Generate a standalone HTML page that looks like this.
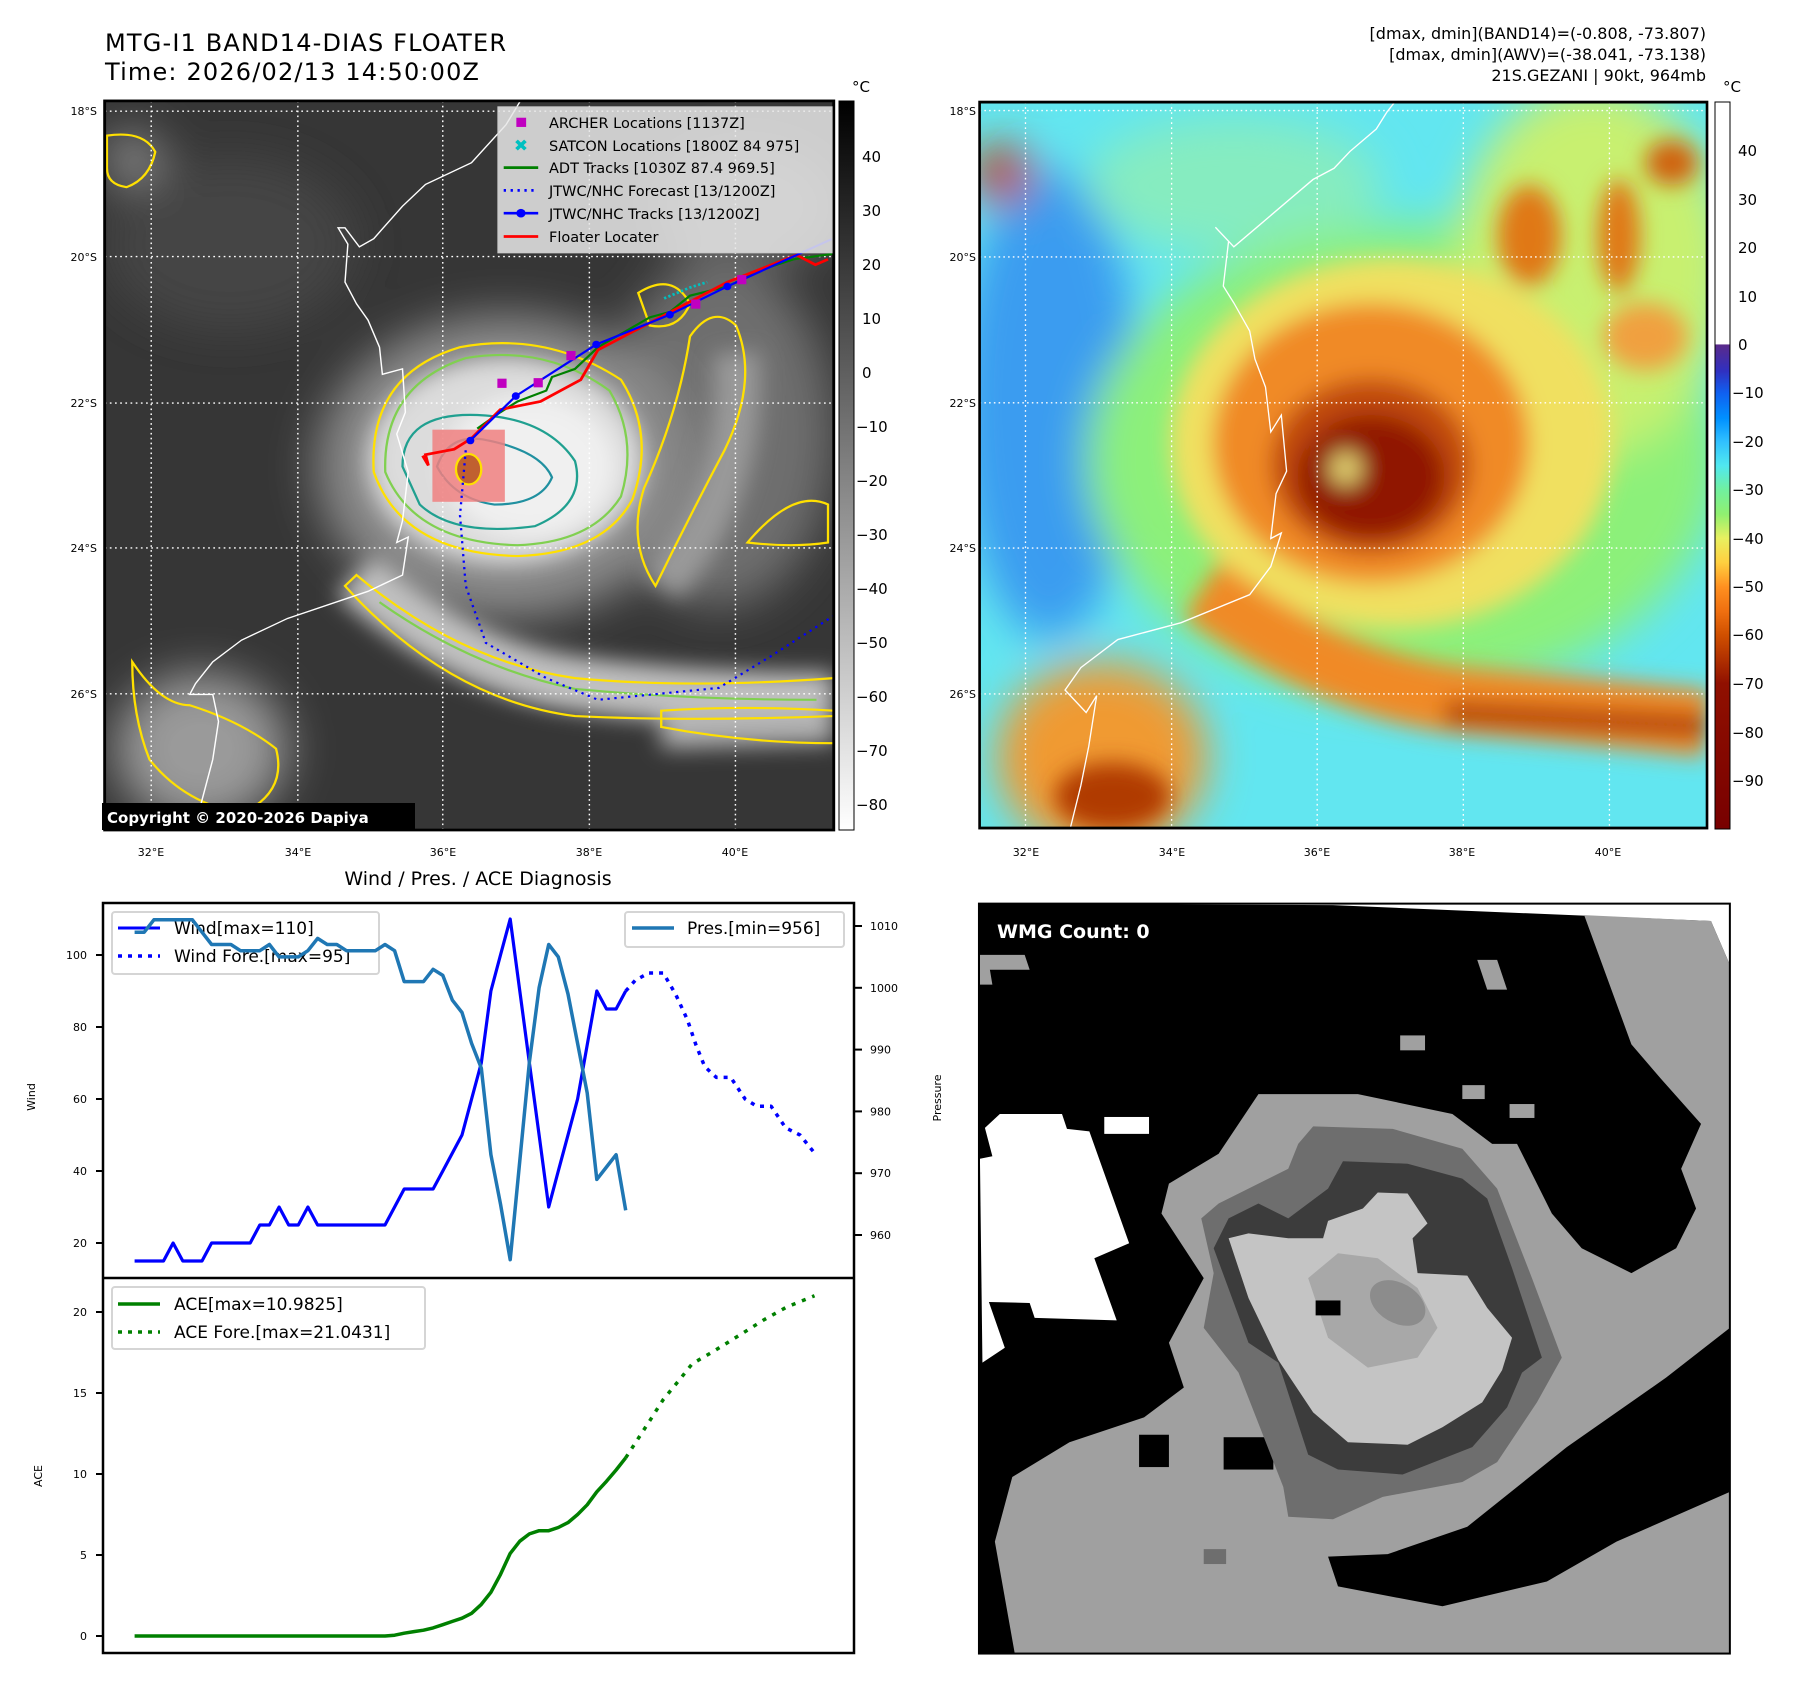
<!DOCTYPE html>
<html><head><meta charset="utf-8"><style>
html,body{margin:0;padding:0;background:#fff;}
svg{display:block;font-family:"DejaVu Sans","Liberation Sans",sans-serif;}
</style></head><body>
<svg id="root" width="1797" height="1690" viewBox="0 0 1797 1690" xmlns="http://www.w3.org/2000/svg">
<defs>
<filter id="b8" x="-30%" y="-30%" width="160%" height="160%"><feGaussianBlur stdDeviation="8"/></filter>
<filter id="b20" x="-30%" y="-30%" width="160%" height="160%"><feGaussianBlur stdDeviation="20"/></filter>
<filter id="b40" x="-40%" y="-40%" width="180%" height="180%"><feGaussianBlur stdDeviation="40"/></filter>
<clipPath id="clipL"><rect x="182" y="186" width="1268" height="1344"/></clipPath>
<clipPath id="clipR"><rect x="18" y="182" width="1379" height="1294"/></clipPath>
<clipPath id="clipW"><rect x="18" y="27" width="1510" height="1508"/></clipPath>
<linearGradient id="cbGray" x1="0" y1="0" x2="0" y2="1"><stop offset="0" stop-color="#000"/><stop offset="1" stop-color="#fff"/></linearGradient>
<linearGradient id="cbJet" x1="0" y1="0" x2="0" y2="1">
<stop offset="0" stop-color="#fff"/><stop offset="0.333" stop-color="#fff"/><stop offset="0.334" stop-color="#5a2a8a"/>
<stop offset="0.37" stop-color="#3030c0"/><stop offset="0.40" stop-color="#1060f0"/><stop offset="0.435" stop-color="#0090ff"/>
<stop offset="0.467" stop-color="#30c0ff"/><stop offset="0.5" stop-color="#50e8f0"/><stop offset="0.533" stop-color="#70f0a0"/>
<stop offset="0.567" stop-color="#90f070"/><stop offset="0.6" stop-color="#e8f060"/><stop offset="0.633" stop-color="#ffd040"/>
<stop offset="0.667" stop-color="#ff9020"/><stop offset="0.7" stop-color="#f07010"/><stop offset="0.733" stop-color="#d05000"/>
<stop offset="0.767" stop-color="#b03000"/><stop offset="0.8" stop-color="#901000"/><stop offset="1" stop-color="#780000"/>
</linearGradient>
</defs>

<!-- Titles -->
<text x="105" y="51" font-size="24" textLength="401">MTG-I1 BAND14-DIAS FLOATER</text>
<text x="105" y="80" font-size="24" textLength="374">Time: 2026/02/13 14:50:00Z</text>
<g font-size="16" text-anchor="end">
<text x="1706" y="39">[dmax, dmin](BAND14)=(-0.808, -73.807)</text>
<text x="1706" y="60">[dmax, dmin](AWV)=(-38.041, -73.138)</text>
<text x="1706" y="81">21S.GEZANI | 90kt, 964mb</text>
</g>

<!-- LEFT MAP (zoom1 coordinate space) -->
<g transform="scale(0.575,0.5425)">
<g clip-path="url(#clipL)">
<rect x="182" y="186" width="1268" height="1344" fill="#363636"/>
<g filter="url(#b40)">
<ellipse cx="400" cy="450" rx="220" ry="160" fill="#444"/>
<ellipse cx="1250" cy="800" rx="200" ry="320" fill="#6e6e6e"/>
<ellipse cx="1300" cy="380" rx="160" ry="120" fill="#5e5e5e"/>
<ellipse cx="880" cy="860" rx="330" ry="280" fill="#8a8a8a"/>
<ellipse cx="350" cy="1380" rx="150" ry="140" fill="#9a9a9a"/>
<ellipse cx="230" cy="290" rx="50" ry="50" fill="#888"/>
</g>
<g filter="url(#b20)">
<path d="M620,1060 Q800,1230 1000,1260 T1450,1290" stroke="#c0c0c0" stroke-width="100" fill="none"/>
<path d="M1150,1350 L1450,1340" stroke="#b0b0b0" stroke-width="60" fill="none"/>
<path d="M1150,1080 Q1300,900 1280,650" stroke="#9a9a9a" stroke-width="80" fill="none"/>
<ellipse cx="880" cy="850" rx="240" ry="190" fill="#dcdcdc"/>
<ellipse cx="920" cy="860" rx="150" ry="130" fill="#f0f0f0"/>
</g>
<!-- contours -->
<g fill="none" stroke-width="4">
<path d="M650,870 Q640,690 800,640 Q950,610 1080,700 Q1140,800 1100,920 Q1050,1020 900,1025 Q700,1020 650,870 Z" stroke="#ffe000"/>
<path d="M670,870 Q665,710 810,660 Q950,635 1060,720 Q1110,810 1080,915 Q1030,1000 900,1005 Q720,1000 670,870 Z" stroke="#80d050"/>
<path d="M700,860 Q700,760 830,765 Q950,770 1000,850 Q1020,930 930,970 Q790,990 730,930 Z" stroke="#20a090"/>
<path d="M760,860 Q780,800 840,810 Q940,830 960,880 Q940,930 860,930 Q790,920 760,860 Z" stroke="#2090a0"/>
<path d="M620,1060 Q800,1220 1000,1250 Q1200,1270 1450,1250 L1450,1320 Q1200,1330 1000,1320 Q780,1290 600,1080 Z" stroke="#ffe000"/>
<path d="M660,1110 Q820,1230 1000,1270 Q1200,1290 1420,1290" stroke="#80d050"/>
<path d="M1150,1310 Q1300,1300 1450,1310 L1450,1370 Q1300,1370 1150,1340 Z" stroke="#ffe000"/>
<path d="M1140,1080 Q1200,950 1260,830 Q1320,700 1280,600 Q1240,560 1200,620 Q1180,760 1120,900 Q1090,1000 1140,1080 Z" stroke="#ffe000"/>
<path d="M1300,1000 Q1380,900 1440,930 L1440,1000 Q1380,1010 1300,1000 Z" stroke="#ffe000"/>
<path d="M230,1220 Q280,1300 330,1300 Q420,1330 480,1380 Q500,1460 420,1500 Q320,1480 260,1400 Q230,1320 230,1220 Z" stroke="#ffe000"/>
<path d="M186,250 Q250,240 270,280 Q260,330 220,345 Q186,340 186,310 Z" stroke="#ffe000"/>
<path d="M1110,540 Q1170,500 1200,560 Q1180,610 1130,600 Z" stroke="#ffe000"/>
</g>
<path d="M905,186 L880,230 L820,300 L740,340 L700,380 L650,440 L625,455 L600,420 L588,420 L605,450 L600,520 L620,560 L640,590 L660,640 L665,690 L700,680 L705,760 L690,800 L710,870 L700,960 L690,1000 L710,990 L700,1060 L640,1090 L500,1140 L420,1180 L370,1220 L340,1260 L330,1280 L370,1280 L380,1330 L370,1400 L350,1480 L345,1530" fill="none" stroke="#fff" stroke-width="2.5"/>
<g stroke="#fff" stroke-width="2.5" stroke-dasharray="3 6">
<line x1="263" y1="186" x2="263" y2="1530"/><line x1="518" y1="186" x2="518" y2="1530"/><line x1="770" y1="186" x2="770" y2="1530"/><line x1="1025" y1="186" x2="1025" y2="1530"/><line x1="1279" y1="186" x2="1279" y2="1530"/>
<line x1="182" y1="205" x2="1450" y2="205"/><line x1="182" y1="473" x2="1450" y2="473"/><line x1="182" y1="743" x2="1450" y2="743"/><line x1="182" y1="1010" x2="1450" y2="1010"/><line x1="182" y1="1279" x2="1450" y2="1279"/>
</g>
<rect x="752" y="792" width="126" height="133" fill="#f08080" fill-opacity="0.85"/>
<ellipse cx="815" cy="865" rx="22" ry="28" fill="#c06030" stroke="#ffe000" stroke-width="4"/>
<polyline points="810,830 800,950 810,1080 845,1185 950,1250 1040,1290 1250,1268 1340,1210 1450,1135" fill="none" stroke="#0000ff" stroke-width="4" stroke-dasharray="4 8"/>
<polyline points="1448,468 1380,478 1330,495 1265,528 1200,545 1165,575 1130,585 1040,640 1000,680 960,695 950,720 900,740 870,760 830,790" fill="none" stroke="#008000" stroke-width="4"/>
<polyline points="1440,478 1418,488 1385,470 1265,520 1040,645 1010,700 940,740 870,755 820,808 790,828 740,838 745,858 735,840" fill="none" stroke="#ff0000" stroke-width="5"/>
<polyline points="1448,440 1265,528 1165,580 1037,635 897,730 818,812" fill="none" stroke="#0000ff" stroke-width="4"/>
<g fill="#0000ff"><ellipse cx="1265" cy="528" rx="7" ry="7"/><ellipse cx="1165" cy="580" rx="7" ry="7"/><ellipse cx="1037" cy="635" rx="7" ry="7"/><ellipse cx="897" cy="730" rx="7" ry="7"/><ellipse cx="818" cy="812" rx="7" ry="7"/></g>
<g fill="#c000c0"><rect x="865" y="698" width="16" height="17"/><rect x="928" y="697" width="16" height="17"/><rect x="985" y="647" width="16" height="17"/><rect x="1202" y="552" width="16" height="17"/><rect x="1282" y="507" width="16" height="17"/></g>
<polyline points="1155,550 1200,530 1230,520" fill="none" stroke="#00c0c0" stroke-width="5" stroke-dasharray="4 4"/>
</g>
<rect x="182" y="186" width="1268" height="1344" fill="none" stroke="#000" stroke-width="5"/>
<g>
<rect x="866" y="197" width="581" height="269" fill="#e8e8e8" fill-opacity="0.85" stroke="#ccc" stroke-width="2"/>
<rect x="898" y="217" width="17" height="17" fill="#c000c0"/>
<text x="906" y="278" font-size="30" fill="#00c0c0" text-anchor="middle">✖</text>
<line x1="876" y1="309" x2="936" y2="309" stroke="#008000" stroke-width="5"/>
<line x1="876" y1="351" x2="936" y2="351" stroke="#0000ff" stroke-width="5" stroke-dasharray="4 8"/>
<line x1="876" y1="393" x2="936" y2="393" stroke="#0000ff" stroke-width="5"/><ellipse cx="906" cy="393" rx="8" ry="8" fill="#0000ff"/>
<line x1="876" y1="436" x2="936" y2="436" stroke="#ff0000" stroke-width="5"/>
</g>
</g>
<g font-size="14.5">
<text x="549" y="128">ARCHER Locations [1137Z]</text>
<text x="549" y="151">SATCON Locations [1800Z 84 975]</text>
<text x="549" y="173">ADT Tracks [1030Z 87.4 969.5]</text>
<text x="549" y="196">JTWC/NHC Forecast [13/1200Z]</text>
<text x="549" y="219">JTWC/NHC Tracks [13/1200Z]</text>
<text x="549" y="242">Floater Locater</text>
</g>
<rect x="102" y="803" width="313" height="27" fill="#000"/>
<text x="107" y="823" font-size="15" font-weight="bold" fill="#fff">Copyright © 2020-2026 Dapiya</text>

<g font-size="11" text-anchor="end">
<text x="97" y="115">18°S</text><text x="97" y="261">20°S</text><text x="97" y="407">22°S</text><text x="97" y="552">24°S</text><text x="97" y="698">26°S</text>
</g>
<g font-size="11" text-anchor="middle">
<text x="151" y="856">32°E</text><text x="298" y="856">34°E</text><text x="443" y="856">36°E</text><text x="589" y="856">38°E</text><text x="735" y="856">40°E</text>
</g>
<rect x="839" y="101" width="15" height="729" fill="url(#cbGray)" stroke="#000" stroke-width="1"/>
<text x="852" y="92" font-size="15">°C</text>
<g font-size="15">
<text x="862" y="162">40</text><text x="862" y="216">30</text><text x="862" y="270">20</text><text x="862" y="324">10</text><text x="862" y="378">0</text>
<text x="856" y="432">−10</text><text x="856" y="486">−20</text><text x="856" y="540">−30</text><text x="856" y="594">−40</text><text x="856" y="648">−50</text><text x="856" y="702">−60</text><text x="856" y="756">−70</text><text x="856" y="810">−80</text>
</g>

<!-- RIGHT MAP (zoom6 space) -->
<g transform="translate(970.1,0) scale(0.5275,0.561)">
<g clip-path="url(#clipR)">
<rect x="18" y="182" width="1379" height="1294" fill="#62e6f0"/>
<g filter="url(#b40)">
<ellipse cx="150" cy="720" rx="170" ry="420" fill="#3a9cf0"/>
<ellipse cx="500" cy="330" rx="280" ry="120" fill="#86ecc0"/>
<ellipse cx="820" cy="820" rx="600" ry="420" fill="#8cf07a"/>
<ellipse cx="1180" cy="480" rx="260" ry="330" fill="#c8f070"/>
<ellipse cx="250" cy="1350" rx="200" ry="170" fill="#f09a30"/>
<ellipse cx="60" cy="310" rx="60" ry="50" fill="#c04010"/>
</g>
<g filter="url(#b20)">
<ellipse cx="800" cy="790" rx="420" ry="330" fill="#f0e060"/>
<path d="M440,1050 Q700,1230 950,1250 T1397,1290" stroke="#f08a28" stroke-width="120" fill="none"/>
<path d="M900,1270 L1397,1295" stroke="#b03a00" stroke-width="40" fill="none"/>
<ellipse cx="760" cy="790" rx="300" ry="250" fill="#f08a28"/>
<ellipse cx="760" cy="830" rx="190" ry="155" fill="#c04a08"/>
<ellipse cx="760" cy="850" rx="140" ry="110" fill="#901400"/>
<ellipse cx="712" cy="835" rx="32" ry="30" fill="#e0d070"/>
<ellipse cx="1330" cy="290" rx="50" ry="40" fill="#d06010"/>
<ellipse cx="1060" cy="420" rx="60" ry="90" fill="#e07818"/>
<ellipse cx="1230" cy="420" rx="40" ry="100" fill="#e07818"/>
<ellipse cx="1280" cy="600" rx="80" ry="60" fill="#f0a040"/>
<ellipse cx="270" cy="1420" rx="110" ry="60" fill="#b03a00"/>
</g>
<path d="M805,182 L790,200 L770,230 L720,270 L690,300 L650,320 L600,360 L550,400 L500,440 L465,405 L490,430 L480,510 L500,540 L530,590 L540,640 L560,690 L570,770 L590,740 L600,840 L580,880 L570,960 L590,950 L570,1010 L530,1060 L400,1110 L280,1140 L210,1190 L180,1230 L220,1270 L240,1240 L225,1330 L210,1400 L190,1476" fill="none" stroke="#fff" stroke-width="2.5"/>
<g stroke="#fff" stroke-width="2.5" stroke-dasharray="3 6">
<line x1="105" y1="182" x2="105" y2="1476"/><line x1="382" y1="182" x2="382" y2="1476"/><line x1="658" y1="182" x2="658" y2="1476"/><line x1="935" y1="182" x2="935" y2="1476"/><line x1="1212" y1="182" x2="1212" y2="1476"/>
<line x1="18" y1="197" x2="1397" y2="197"/><line x1="18" y1="458" x2="1397" y2="458"/><line x1="18" y1="718" x2="1397" y2="718"/><line x1="18" y1="977" x2="1397" y2="977"/><line x1="18" y1="1237" x2="1397" y2="1237"/>
</g>
</g>
<rect x="18" y="182" width="1379" height="1294" fill="none" stroke="#000" stroke-width="5"/>
</g>
<g font-size="11" text-anchor="end">
<text x="976" y="115">18°S</text><text x="976" y="261">20°S</text><text x="976" y="407">22°S</text><text x="976" y="552">24°S</text><text x="976" y="698">26°S</text>
</g>
<g font-size="11" text-anchor="middle">
<text x="1026" y="856">32°E</text><text x="1172" y="856">34°E</text><text x="1317" y="856">36°E</text><text x="1462" y="856">38°E</text><text x="1608" y="856">40°E</text>
</g>
<rect x="1715" y="102" width="15" height="727" fill="url(#cbJet)" stroke="#000" stroke-width="1"/>
<text x="1723" y="92" font-size="15">°C</text>
<g font-size="15">
<text x="1738" y="156">40</text><text x="1738" y="205">30</text><text x="1738" y="253">20</text><text x="1738" y="302">10</text><text x="1738" y="350">0</text>
<text x="1732" y="398">−10</text><text x="1732" y="447">−20</text><text x="1732" y="495">−30</text><text x="1732" y="544">−40</text><text x="1732" y="592">−50</text><text x="1732" y="640">−60</text><text x="1732" y="689">−70</text><text x="1732" y="738">−80</text><text x="1732" y="786">−90</text>
</g>

<!-- WMG panel (zoom5 space) -->
<g transform="translate(970,890.2) scale(0.4973)">
<g clip-path="url(#clipW)">
<rect x="18" y="27" width="1510" height="1508" fill="#fff"/>
<polygon points="18,27 730,30 1490,62 1528,150 1528,1535 18,1535" fill="#000"/>
<polygon points="1235,50 1490,62 1528,150 1528,880 1400,980 1200,1120 1000,1280 840,1335 720,1340 740,1400 950,1440 1160,1390 1300,1310 1528,1210 1528,1535 90,1535 50,1310 85,1180 200,1110 350,1060 430,1000 400,910 470,780 385,650 400,590 500,530 580,410 780,410 970,450 1050,510 1100,510 1170,650 1230,720 1330,770 1420,720 1460,640 1430,560 1470,470 1390,380 1330,310" fill="#a0a0a0"/>
<g fill="#000"><rect x="340" y="1095" width="60" height="65"/><rect x="510" y="1100" width="100" height="65"/></g>
<g fill="#a0a0a0"><polygon points="1020,140 1060,140 1080,200 1040,200"/><rect x="865" y="292" width="50" height="30"/><rect x="990" y="392" width="45" height="28"/><rect x="1085" y="430" width="50" height="28"/><polygon points="20,130 110,130 120,160 40,160 45,190 20,190"/></g>
<rect x="470" y="1325" width="45" height="30" fill="#6e6e6e"/>
<polygon points="30,478 60,450 185,450 195,480 240,485 320,710 250,740 295,865 130,860 120,830 38,828 70,920 25,950 20,540 45,535" fill="#fff"/>
<rect x="270" y="456" width="90" height="34" fill="#fff"/>
<polygon points="690,475 850,480 990,520 1060,600 1130,780 1190,940 1140,1030 1060,1150 990,1190 830,1220 730,1265 640,1260 630,1200 540,970 470,880 490,770 465,660 500,630 570,595 640,560 660,510" fill="#6e6e6e"/>
<polygon points="750,545 880,550 990,580 1040,620 1090,760 1150,940 1110,970 1080,1040 1010,1120 870,1175 740,1165 680,1135 620,950 560,910 490,720 520,660 580,630 640,660 720,600" fill="#3c3c3c"/>
<polygon points="820,608 880,610 920,670 890,700 900,770 1000,775 1040,840 1090,900 1070,965 1030,1030 950,1080 880,1115 760,1110 690,1050 620,945 560,820 520,700 560,690 640,700 710,700 720,665 790,640" fill="#c4c4c4"/>
<polygon points="740,730 820,740 900,800 940,880 900,940 800,960 720,900 680,780" fill="#a8a8a8"/>
<ellipse cx="860" cy="830" rx="60" ry="40" fill="#8c8c8c" transform="rotate(30 860 830)"/>
<rect x="695" y="825" width="50" height="30" fill="#000"/>
</g>
<rect x="18" y="27" width="1510" height="1508" fill="none" stroke="#000" stroke-width="4"/>
</g>
<text x="997" y="938" font-size="19" font-weight="bold" fill="#fff">WMG Count: 0</text>

<!-- Diagnosis chart -->
<text x="478" y="885" font-size="19" text-anchor="middle">Wind / Pres. / ACE Diagnosis</text>
<g id="chart"></g>
<rect x="103" y="903" width="751" height="750" fill="none" stroke="#000" stroke-width="2.5"/>
<line x1="103" y1="1278" x2="854" y2="1278" stroke="#000" stroke-width="2.5"/>
<text transform="translate(35,1097) rotate(-90)" font-size="11" text-anchor="middle">Wind</text>
<text transform="translate(941,1098) rotate(-90)" font-size="11" text-anchor="middle">Pressure</text>
<text transform="translate(42,1476) rotate(-90)" font-size="11" text-anchor="middle">ACE</text>

<g>
<rect x="112" y="912" width="267" height="62" rx="3" fill="#fff" fill-opacity="0.8" stroke="#d5d5d5" stroke-width="2"/>
<line x1="118" y1="928" x2="160" y2="928" stroke="#0000ff" stroke-width="3"/>
<line x1="118" y1="956" x2="160" y2="956" stroke="#0000ff" stroke-width="3.5" stroke-dasharray="4 6"/>
<text x="174" y="934" font-size="17">Wind[max=110]</text>
<text x="174" y="962" font-size="17">Wind Fore.[max=95]</text>
</g>
<g id="chart2"></g>
<g>
<rect x="625" y="912" width="219" height="35" rx="3" fill="#fff" fill-opacity="0.8" stroke="#d5d5d5" stroke-width="2"/>
<line x1="632" y1="928" x2="674" y2="928" stroke="#1f77b4" stroke-width="3.5"/>
<text x="687" y="934" font-size="17">Pres.[min=956]</text>
</g>
<g>
<rect x="112" y="1287" width="313" height="62" rx="3" fill="#fff" fill-opacity="0.8" stroke="#d5d5d5" stroke-width="2"/>
<line x1="118" y1="1304" x2="160" y2="1304" stroke="#008000" stroke-width="3.5"/>
<line x1="118" y1="1332" x2="160" y2="1332" stroke="#008000" stroke-width="3.5" stroke-dasharray="4 6"/>
<text x="174" y="1310" font-size="17">ACE[max=10.9825]</text>
<text x="174" y="1338" font-size="17">ACE Fore.[max=21.0431]</text>
</g>
</svg>
<script>
const windObs = [15,15,15,15,20,15,15,15,20,20,20,20,20,25,25,30,25,25,30,25,25,25,25,25,25,25,25,30,35,35,35,35,40,45,50,60,70,90,100,110,90,70,50,30,40,50,60,75,90,85,85,90];
const presObs = [1009,1009,1011,1011,1011,1011,1011,1009,1007,1007,1007,1006,1006,1006,1007,1005,1005,1005,1006,1008,1007,1007,1006,1006,1006,1006,1007,1006,1001,1001,1001,1003,1002,998,996,991,987,973,965,956,972,988,1000,1007,1005,999,991,983,969,971,973,964];
const aceObs = [0,0,0,0,0,0,0,0,0,0,0,0,0,0,0,0,0,0,0,0,0,0,0,0,0,0,0,0.05,0.17,0.27,0.36,0.5,0.7,0.9,1.1,1.4,1.95,2.7,3.8,5.1,5.85,6.3,6.5,6.5,6.7,7.0,7.5,8.1,8.9,9.55,10.25,11.0];
const foreIdx = [51,52,53.4,54.9,56.2,57.4,58.3,59.2,60.4,61.9,63.4,64.6,66.1,67.6,69.1,70.6];
const windFore = [90,93,95,95,89,82,75,69,66,66,60,58,58,52,50,45];
const aceForeIdx = [51,53.4,54.9,56.7,57.9,60.2,62.9,65.3,67.7,70.6];
const aceFore = [11.0,13.2,14.6,15.9,16.8,17.6,18.6,19.5,20.3,21.0];
const windTicks = [20,40,60,80,100];
const presTicks = [960,970,980,990,1000,1010];
const aceTicks = [0,5,10,15,20];

const NS = 'http://www.w3.org/2000/svg';
const chart = document.getElementById('chart');
const chart2 = document.getElementById('chart2');
function xS(i){ return 134.6 + i*9.63; }
function yW(v){ return 1243 - (v-20)*3.6; }
function yP(p){ return 926 + (1010-p)*6.18; }
function yA(a){ return 1636 - a*16.2; }
function mk(tag, attrs, parent){ const e=document.createElementNS(NS,tag); for(const k in attrs) e.setAttribute(k,attrs[k]); (parent||chart).appendChild(e); return e; }
function line(xs, ys, color, dash, w, name, parent){
  const pts = xs.map((x,k)=>x.toFixed(1)+','+ys[k].toFixed(1)).join(' ');
  const e = mk('polyline',{points:pts,fill:'none',stroke:color,'stroke-width':w,'stroke-linejoin':'round'}, parent);
  if(dash) e.setAttribute('stroke-dasharray',dash);
  
  
}
line(windObs.map((v,i)=>xS(i)), windObs.map(yW), '#0000ff', null, 3.2, 'wind-line');
line(foreIdx.map(xS), windFore.map(yW), '#0000ff', '4 6', 3.5, 'wind-forecast-line');
line(presObs.map((v,i)=>xS(i)), presObs.map(yP), '#1f77b4', null, 3.5, 'pressure-line', chart2);
line(aceObs.map((v,i)=>xS(i)), aceObs.map(yA), '#008000', null, 3.5, 'ace-line');
line(aceForeIdx.map(xS), aceFore.map(yA), '#008000', '4 7', 3.5, 'ace-forecast-line');
function ticks(vals, yf, side, name){
  vals.forEach(v=>{
    const y = yf(v);
    const x1 = side==='l'?96:854, x2 = side==='l'?103:862;
    const t = mk('line',{x1:x1,y1:y,x2:x2,y2:y,stroke:'#000','stroke-width':2});
    
    
    const tx = mk('text',{x: side==='l'?87:870, y: y+4, 'font-size':11, 'text-anchor': side==='l'?'end':'start'});
    tx.textContent = v;
    
    
  });
}
ticks(windTicks, yW, 'l', 'wind');
ticks(presTicks, yP, 'r', 'pressure');
ticks(aceTicks, yA, 'l', 'ace');
</script>
</body></html>
